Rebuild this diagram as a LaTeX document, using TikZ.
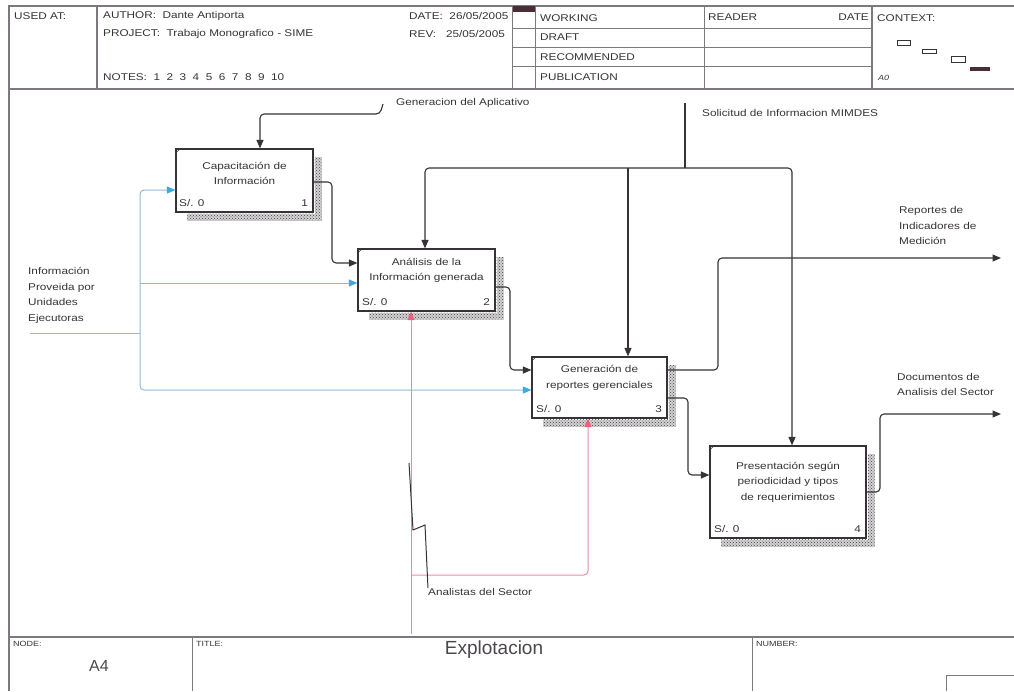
\documentclass[tikz,border=0pt]{standalone}
\usepackage{fontspec}
\setmainfont{Liberation Sans}
\newfontfamily\widefont[FakeStretch=1.2]{Liberation Sans}
\usetikzlibrary{patterns,arrows.meta}
\definecolor{frm}{RGB}{125,120,125}
\definecolor{ink}{RGB}{55,50,55}
\definecolor{blu}{RGB}{145,185,215}
\definecolor{blutip}{RGB}{60,170,225}
\definecolor{pnk}{RGB}{232,140,165}
\definecolor{pnktip}{RGB}{235,95,130}
\definecolor{markc}{RGB}{75,45,55}
\begin{document}
\begin{tikzpicture}[x=1pt,y=-1pt,
  every node/.style={inner sep=0pt, font=\widefont\fontsize{9.8}{15.5}\selectfont, text=ink},
  box/.style={draw=ink, line width=1.2pt, fill=white},
  btxt/.style={align=center},
  lbl/.style={anchor=west, align=left},
  hdr/.style={anchor=west},
  small/.style={anchor=west, font=\widefont\fontsize{7.5}{9}\selectfont},
  frame/.style={draw=frm, line width=1.2pt},
  thin/.style={draw=frm, line width=0.8pt},
  con/.style={draw=ink, line width=1.1pt, rounded corners=4pt},
  arr/.style={con, -{Triangle[length=8.5pt,width=7pt]}},
  bcon/.style={draw=blu, line width=1pt, rounded corners=4pt},
  barr/.style={bcon, -{Triangle[length=8.5pt,width=7pt,color=blutip]}},
  pcon/.style={draw=pnk, line width=1pt, rounded corners=4pt},
  parr/.style={pcon, -{Triangle[length=8.5pt,width=7pt,color=pnktip]}},
  shade/.style={fill=gray!35, postaction={pattern=crosshatch dots, pattern color=black!75}}
]
\useasboundingbox (0,0) rectangle (1014,691);

% ---------------- header ----------------
\draw[frame] (1014,6) -- (9,6) -- (9,691);
\draw[frame] (9,89) -- (1014,89);
\draw[frame] (97,6) -- (97,89);
\draw[thin] (512,6) -- (512,89);
\draw[thin] (535,6) -- (535,89);
\draw[thin] (704,6) -- (704,89);
\draw[frame] (872,6) -- (872,89);
\foreach \yy in {28,47,66} \draw[thin] (512,\yy) -- (872,\yy);
\fill[markc] (513,6) rectangle (535,12);

\node[hdr] (usedat) at (14,16) {USED AT:};
\node[hdr] (author) at (103,16) {AUTHOR:\ \ Dante Antiporta};
\node[hdr] (project) at (103,34) {PROJECT:\ \ Trabajo Monografico - SIME};
\node[hdr] (notes) at (103,77) {NOTES:\ \ 1\ \ 2\ \ 3\ \ 4\ \ 5\ \ 6\ \ 7\ \ 8\ \ 9\ \ 10};
\node[hdr] (date) at (409,16) {DATE:\ \ 26/05/2005};
\node[hdr] (rev) at (409,34) {REV:\ \ \ 25/05/2005};
\node[hdr] (working) at (540,18) {WORKING};
\node[hdr] (draft) at (540,37) {DRAFT};
\node[hdr] (recom) at (540,57) {RECOMMENDED};
\node[hdr] (publ) at (540,77) {PUBLICATION};
\node[hdr] (reader) at (708,17) {READER};
\node[anchor=east] (rdate) at (869,17) {DATE};
\node[hdr] (context) at (877,18) {CONTEXT:};
\node[small] (a0) at (878,78) {\itshape A0};
\draw[ink, line width=0.9pt] (897,40) rectangle (910,45);
\draw[ink, line width=0.9pt] (922,49) rectangle (936,53);
\draw[ink, line width=0.9pt] (951,56) rectangle (965,62);
\fill[markc] (970,67) rectangle (990,71);

% ---------------- footer ----------------
\draw[frame] (9,637) -- (1014,637);
\draw[thin] (192,637) -- (192,691);
\draw[thin] (752,637) -- (752,691);
\draw[thin] (946,691) -- (946,675) -- (1014,675);
\node[small] (nodelbl) at (13,644) {NODE:};
\node[small] (titlelbl) at (196,644) {TITLE:};
\node[small] (numlbl) at (756,644) {NUMBER:};
\node[font=\fontsize{19}{22}\selectfont, text=ink!90] (title) at (494,650) {Explotacion};
\node[font=\fontsize{16}{18}\selectfont, text=ink!90] (nodeid) at (99,666) {A4};

% ---------------- boxes ----------------
\node[box, minimum width=137pt, minimum height=63pt] (b1) at (244.5,180.5) {};
\node[box, minimum width=137pt, minimum height=62pt] (b2) at (426.5,280) {};
\node[box, minimum width=135pt, minimum height=61pt] (b3) at (599.5,387.5) {};
\node[box, minimum width=156pt, minimum height=92pt] (b4) at (788,492) {};

\foreach \b in {b1,b2,b3,b4}{
  \path[shade] ([xshift=1pt,yshift=-9pt]\b.north east) rectangle ([xshift=8pt,yshift=-8pt]\b.south east);
  \path[shade] ([xshift=12pt,yshift=-1pt]\b.south west) rectangle ([xshift=1pt,yshift=-8pt]\b.south east);
  \draw[ink, line width=0.6pt] ([yshift=-5pt]\b.north west) -- ([xshift=5pt]\b.north west);
}

\node[btxt] (b1t) at (244.5,173.5) {Capacitación de\\Información};
\node[btxt] (b2t) at (426.5,270.5) {Análisis de la\\Información generada};
\node[btxt] (b3t) at (599.5,378) {Generación de\\reportes gerenciales};
\node[btxt] (b4t) at (788,482) {Presentación según\\periodicidad y tipos\\de requerimientos};

\node[anchor=west] (b1s) at (179,203) {S/. 0};
\node[anchor=east] (b1n) at (308,203) {1};
\node[anchor=west] (b2s) at (362,302) {S/. 0};
\node[anchor=east] (b2n) at (490,302) {2};
\node[anchor=west] (b3s) at (536,409) {S/. 0};
\node[anchor=east] (b3n) at (662,409) {3};
\node[anchor=west] (b4s) at (714,529) {S/. 0};
\node[anchor=east] (b4n) at (861,529) {4};

% ---------------- labels ----------------
\node[lbl] (gen) at (396,103) {Generacion del Aplicativo};
\node[lbl] (sol) at (702,113) {Solicitud de Informacion MIMDES};
\node[lbl] (inp) at (28,295.5) {Información\\Proveida por\\Unidades\\Ejecutoras};
\node[lbl] (rep) at (899,225.5) {Reportes de\\Indicadores de\\Medición};
\node[lbl] (doc) at (897,384.5) {Documentos de\\Analisis del Sector};
\node[lbl] (ana) at (428,592) {Analistas del Sector};

% ---------------- connectors ----------------
% control: Generacion del Aplicativo
\coordinate (genc) at ([xshift=-13pt,yshift=-1pt]gen.west);
\draw[arr] (genc) -- (380,114) -- (260,114) -- (b1.north -| 260,0);

% control: Solicitud de Informacion MIMDES
\coordinate (solc) at (685,103);
\coordinate (solj) at (685,168);
\draw[con] (solc) -- (solj);
\draw[arr] (solj) -- (425,168) -- (b2.north -| 425,0);
\draw[arr] (solj) -- (792,168) -- (b4.north -| 792,0);
\draw[arr] (628,168) -- (b3.north -| 628,0);

% inputs (blue)
\coordinate (inl) at (30,333);
\draw[bcon] (inl) -- (140,333);
\draw[barr] (140,333) -- (140,190) -- (b1.west |- 0,190);
\draw[barr] (140,283) -- (b2.west |- 0,283);
\draw[barr] (140,333) -- (140,390) -- (b3.west |- 0,390);

% internal flows
\draw[arr] (b1.east |- 0,182) -- (332,182) -- (332,263) -- (b2.west |- 0,263);
\draw[arr] (b2.east |- 0,287) -- (510,287) -- (510,370) -- (b3.west |- 0,370);
\draw[arr] (b3.east |- 0,398) -- (688,398) -- (688,475) -- (b4.west |- 0,475);

% outputs
\coordinate (out1) at (1001,258);
\coordinate (out2) at (1001,414);
\draw[arr] (b3.east |- 0,370) -- (718,370) -- (718,258) -- (out1);
\draw[arr] (b4.east |- 0,492) -- (880,492) -- (880,414) -- (out2);

% mechanism (pink)
\coordinate (mbot) at (411,634);
\draw[parr] (mbot) -- (b2.south -| 411,0);
\draw[parr] (411,575) -- (588,575) -- (b3.south -| 588,0);

% label squiggle
\coordinate (sq) at (409,463);
\draw[ink, line width=1pt] (sq) -- (413,530) -- (425,525) -- (ana.north west);
\end{tikzpicture}
\end{document}
